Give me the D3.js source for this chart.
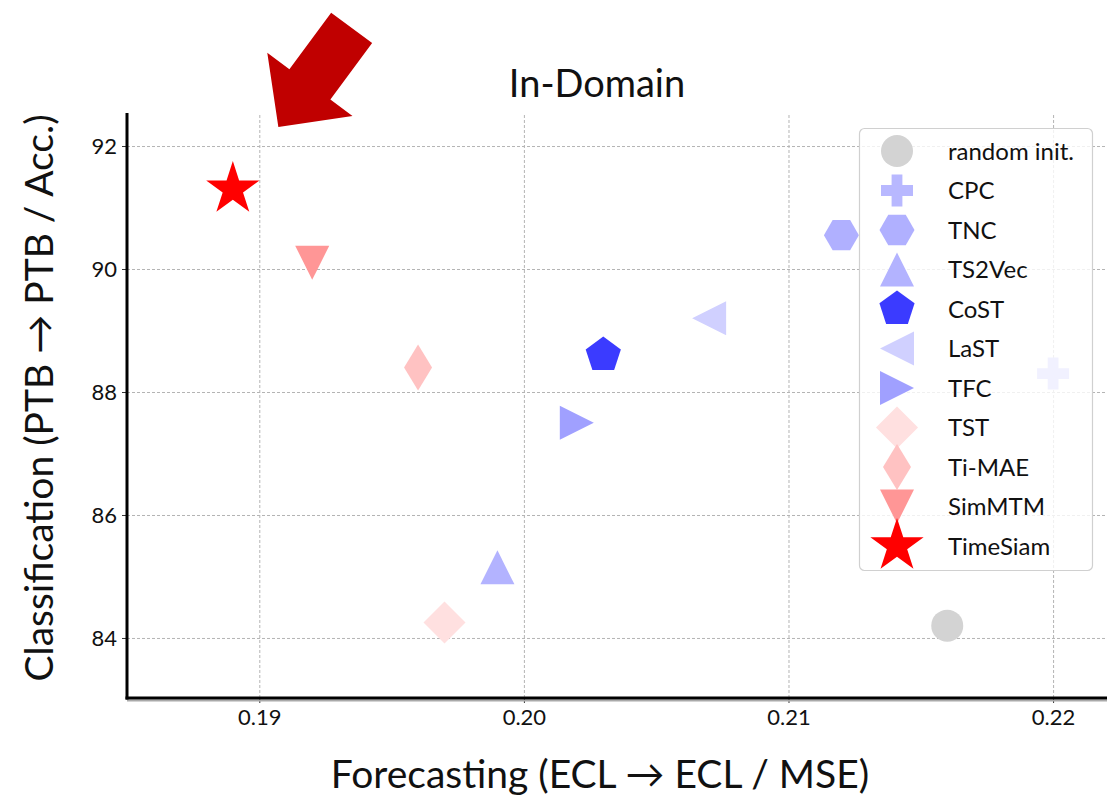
<!DOCTYPE html>
<html>
<head>
<meta charset="utf-8">
<script src="https://cdn.jsdelivr.net/npm/d3@7"></script>
<style>
  body { margin: 0; background: #fff; }
  svg { display: block; font-family: Lato, 'DejaVu Sans', sans-serif; }
</style>
</head>
<body>
<svg id="chart"></svg>
<script>
// values
const methods = ['random init.', 'CPC', 'TNC', 'TS2Vec', 'CoST', 'LaST', 'TFC', 'TST', 'Ti-MAE', 'SimMTM', 'TimeSiam'];
const forecastMSE = [0.216, 0.220, 0.212, 0.199, 0.203, 0.207, 0.202, 0.197, 0.196, 0.192, 0.189];
const classAcc = [84.2, 88.3, 90.55, 85.15, 88.6, 89.2, 87.5, 84.25, 88.4, 90.1, 91.3];
const markers = ['circle', 'plus', 'hexagon', 'triUp', 'pentagon', 'triLeft', 'triRight', 'diamond', 'thinDiamond', 'triDown', 'star'];
const colors = ['#d3d3d3', '#b8b8ff', '#b0b0ff', '#b3b3ff', '#3b3bff', '#d0d0ff', '#a0a0ff', '#ffe0e0', '#ffc2c2', '#ff9696', '#ff0000'];
const xTicks = [0.19, 0.20, 0.21, 0.22];
const yTicks = [84, 86, 88, 90, 92];

const width = 1107;
const height = 798;
const margin = { top: 113, right: 1, bottom: 100, left: 127 };

const svg = d3.select('#chart').attr('width', width).attr('height', height);

const x = d3.scaleLinear().domain([0.185, 0.222]).range([margin.left, width - margin.right]);
const y = d3.scaleLinear().domain([83.024, 92.537]).range([height - margin.bottom, margin.top]);

// polygon helpers for matplotlib-like markers
function poly(pts) {
  return 'M' + pts.map(p => p[0].toFixed(2) + ',' + p[1].toFixed(2)).join('L') + 'Z';
}
function regular(n, r, rot) {
  return d3.range(n).map(i => {
    const a = rot + i * 2 * Math.PI / n;
    return [r * Math.sin(a), -r * Math.cos(a)];
  });
}
function markerPath(type) {
  const t = 17;
  switch (type) {
    case 'circle': return d3.symbol(d3.symbolCircle, Math.PI * 16 * 16)();
    case 'plus': {
      const a = 16, b = 5.4;
      return poly([[-b, -a], [b, -a], [b, -b], [a, -b], [a, b], [b, b], [b, a], [-b, a], [-b, b], [-a, b], [-a, -b], [-b, -b]]);
    }
    case 'hexagon': return poly(regular(6, 17.5, Math.PI / 6));
    case 'pentagon': return poly(regular(5, 18.5, 0));
    case 'triUp': return poly([[0, -t], [t, t], [-t, t]]);
    case 'triDown': return poly([[0, t], [t, -t], [-t, -t]]);
    case 'triLeft': return poly([[-t, 0], [t, -t], [t, t]]);
    case 'triRight': return poly([[t, 0], [-t, -t], [-t, t]]);
    case 'diamond': return poly([[0, -21], [21, 0], [0, 21], [-21, 0]]);
    case 'thinDiamond': return poly([[0, -23], [14, 0], [0, 23], [-14, 0]]);
    case 'star': {
      const outer = 28, inner = outer * 0.382;
      return poly(d3.range(10).map(i => {
        const r = i % 2 === 0 ? outer : inner;
        const a = i * Math.PI / 5;
        return [r * Math.sin(a), -r * Math.cos(a)];
      }));
    }
  }
}

// grid lines
svg.append('g')
  .attr('transform', `translate(0,${height - margin.bottom})`)
  .call(d3.axisBottom(x).tickValues(xTicks).tickSize(-(height - margin.bottom - margin.top)).tickFormat(''))
  .call(g => g.select('.domain').remove())
  .call(g => g.selectAll('line').attr('stroke', '#b4b4b4').attr('stroke-dasharray', '3,2'));

svg.append('g')
  .attr('transform', `translate(${margin.left},0)`)
  .call(d3.axisLeft(y).tickValues(yTicks).tickSize(-(width - margin.left - margin.right)).tickFormat(''))
  .call(g => g.select('.domain').remove())
  .call(g => g.selectAll('line').attr('stroke', '#b4b4b4').attr('stroke-dasharray', '3,2'));

// axes
const xAxis = svg.append('g')
  .attr('transform', `translate(0,${height - margin.bottom})`)
  .call(d3.axisBottom(x).tickValues(xTicks).tickFormat(d3.format('.2f')).tickSize(5).tickPadding(6));
const yAxis = svg.append('g')
  .attr('transform', `translate(${margin.left},0)`)
  .call(d3.axisLeft(y).tickValues(yTicks).tickSize(5).tickPadding(5));

[xAxis, yAxis].forEach(g => {
  g.select('.domain').remove();
  g.selectAll('text').attr('font-size', 22).attr('fill', '#111').attr('font-family', 'Lato');
  g.selectAll('line').attr('stroke', '#333');
});

svg.append('line')
  .attr('x1', margin.left).attr('x2', width)
  .attr('y1', height - margin.bottom + 2.5).attr('y2', height - margin.bottom + 2.5)
  .attr('stroke', '#aaa').attr('stroke-width', 2);
svg.append('line')
  .attr('x1', margin.left - 1.5).attr('x2', width)
  .attr('y1', height - margin.bottom).attr('y2', height - margin.bottom)
  .attr('stroke', '#000').attr('stroke-width', 3);
svg.append('line')
  .attr('x1', margin.left).attr('x2', margin.left)
  .attr('y1', margin.top).attr('y2', height - margin.bottom + 1.5)
  .attr('stroke', '#000').attr('stroke-width', 3);

// points
const points = methods.map((m, i) => ({ name: m, fx: forecastMSE[i], acc: classAcc[i], marker: markers[i], color: colors[i] }));

svg.append('g')
  .selectAll('path')
  .data(points)
  .join('path')
  .attr('transform', d => `translate(${x(d.fx)},${y(d.acc)})`)
  .attr('d', d => markerPath(d.marker))
  .attr('fill', d => d.color);

// title and labels
svg.append('text')
  .attr('x', 597).attr('y', 97)
  .attr('text-anchor', 'middle')
  .attr('font-size', 38)
  .attr('fill', '#111')
  .text('In-Domain');

svg.append('text')
  .attr('x', 600).attr('y', 788)
  .attr('text-anchor', 'middle')
  .attr('font-size', 39)
  .attr('fill', '#111')
  .text('Forecasting (ECL → ECL / MSE)');

svg.append('text')
  .attr('transform', 'translate(53,398) rotate(-90)')
  .attr('text-anchor', 'middle')
  .attr('font-size', 39)
  .attr('fill', '#111')
  .text('Classification (PTB → PTB / Acc.)');

// big arrow pointing at TimeSiam
const tip = [x(0.19072), y(92.31)];
const tail = [x(0.19349), y(93.92)];
const dx = tip[0] - tail[0], dy = tip[1] - tail[1];
const len = Math.hypot(dx, dy);
const u = [dx / len, dy / len];
const n = [-u[1], u[0]];
const shaftW = 51, headW = 106, headLen = 53;
const base = [tip[0] - u[0] * headLen, tip[1] - u[1] * headLen];
const off = (p, w) => [p[0] + n[0] * w, p[1] + n[1] * w];
svg.append('path')
  .attr('d', poly([
    off(tail, shaftW / 2), off(base, shaftW / 2), off(base, headW / 2), tip,
    off(base, -headW / 2), off(base, -shaftW / 2), off(tail, -shaftW / 2)
  ]))
  .attr('fill', '#c00000');

// legend (semi-transparent, so CPC underneath shows faintly)
const legend = svg.append('g');
legend.append('rect')
  .attr('x', 859.5).attr('y', 128.5)
  .attr('width', 233).attr('height', 442)
  .attr('rx', 5)
  .attr('fill', '#fff').attr('fill-opacity', 0.8)
  .attr('stroke', '#d0d0d0').attr('stroke-width', 1.2);

const rows = legend.selectAll('g.row')
  .data(points)
  .join('g')
  .attr('class', 'row')
  .attr('transform', (d, i) => `translate(897,${151 + i * 39.5})`);

rows.append('path')
  .attr('d', d => markerPath(d.marker))
  .attr('fill', d => d.color);

rows.append('text')
  .attr('x', 51)
  .attr('dy', '0.36em')
  .attr('font-size', 24)
  .attr('fill', '#111')
  .text(d => d.name);
</script>
</body>
</html>
